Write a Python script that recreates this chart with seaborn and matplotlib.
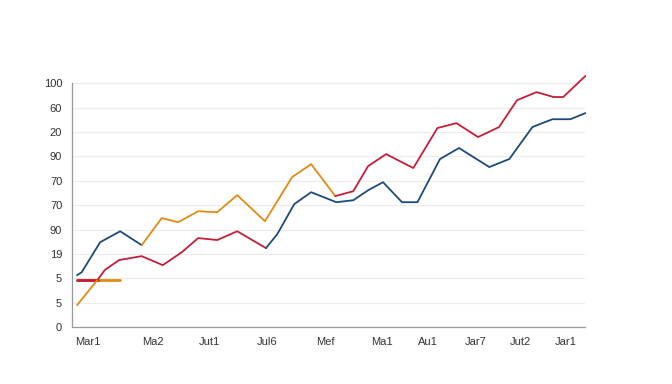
import matplotlib
matplotlib.use("Agg")
import matplotlib.pyplot as plt
import seaborn as sns
import pandas as pd

sns.set_style("white")
plt.rcParams['font.family'] = ['Liberation Sans', 'DejaVu Sans']

# tick labels (as printed on the chart)
y_labels = ['0', '5', '5', '19', '90', '70', '70', '90', '20', '60', '100']
x_labels = ['Mar1', 'Ma2', 'Jut1', 'Jul6', 'Mef', 'Ma1', 'Au1', 'Jar7', 'Jut2', 'Jar1']
x_ticks = [3.1, 15.8, 26.7, 38.0, 49.3, 60.4, 69.4, 78.6, 87.3, 96.1]

# upper line, split by colour
up_blue_x = [1.0, 1.9, 5.5, 9.4, 13.6]
up_blue_y = [2.13, 2.25, 3.48, 3.93, 3.36]
up_orange_x = [13.6, 17.5, 20.7, 24.6, 28.3, 32.2, 37.6, 42.9, 46.6, 51.3]
up_orange_y = [3.36, 4.47, 4.30, 4.75, 4.71, 5.41, 4.34, 6.15, 6.68, 5.37]
up_red_x = [51.3, 54.8, 57.7, 61.2, 66.5, 71.2, 74.9, 79.1, 83.2, 86.7, 90.5, 93.8, 95.7, 100.0]
up_red_y = [5.37, 5.57, 6.60, 7.09, 6.52, 8.16, 8.36, 7.79, 8.20, 9.30, 9.63, 9.43, 9.43, 10.29]

# lower line, split by colour
lo_orange_x = [1.0, 5.1]
lo_orange_y = [0.90, 1.97]
lo_red_x = [5.1, 6.4, 9.2, 13.6, 17.7, 21.4, 24.6, 28.3, 32.2, 37.8]
lo_red_y = [1.97, 2.34, 2.75, 2.91, 2.54, 3.07, 3.65, 3.57, 3.93, 3.24]
lo_blue_x = [37.8, 40.0, 43.3, 46.6, 51.5, 54.8, 57.7, 60.6, 64.3, 67.3, 71.7, 75.4, 81.3, 85.2, 89.7, 93.6, 97.1, 100.0]
lo_blue_y = [3.24, 3.81, 5.04, 5.53, 5.12, 5.20, 5.61, 5.94, 5.12, 5.12, 6.89, 7.34, 6.56, 6.89, 8.20, 8.52, 8.52, 8.77]

# short flat marker line
flat_x = [1.0, 9.4]
flat_y = [1.93, 1.93]
flat_red_x = [1.0, 5.1]

BLUE = '#1d4a7a'
RED = '#c41e3a'
ORANGE = '#e08b12'

fig = plt.figure(figsize=(6.72, 3.84), dpi=100)
ax = fig.add_axes([0.107, 0.148, 0.764, 0.661])

segs = [
    (flat_x, flat_y, ORANGE, 2.0),
    (flat_red_x, flat_y, RED, 2.0),
    (lo_orange_x, lo_orange_y, ORANGE, 1.3),
    (lo_red_x, lo_red_y, RED, 1.3),
    (lo_blue_x, lo_blue_y, BLUE, 1.3),
    (up_blue_x, up_blue_y, BLUE, 1.3),
    (up_orange_x, up_orange_y, ORANGE, 1.3),
    (up_red_x, up_red_y, RED, 1.3),
]
for xs, ys, c, lw in segs:
    df = pd.DataFrame({'x': xs, 'y': ys})
    sns.lineplot(data=df, x='x', y='y', ax=ax, color=c, linewidth=lw,
                 sort=False, clip_on=False)

ax.set_xlim(0, 100)
ax.set_ylim(0, 10.4)
ax.set_yticks(range(11))
ax.set_yticklabels(y_labels)
ax.set_xticks(x_ticks)
ax.set_xticklabels(x_labels)
ax.set_xlabel('')
ax.set_ylabel('')

for y in range(1, 11):
    ax.axhline(y, color='#ececec', linewidth=0.8, zorder=0)

for s in ['top', 'right']:
    ax.spines[s].set_visible(False)
ax.spines['left'].set_bounds(0, 10)
for s in ['left', 'bottom']:
    ax.spines[s].set_color('#999999')
    ax.spines[s].set_linewidth(0.9)

ax.tick_params(axis='both', labelsize=8, colors='#333333', length=3,
               width=0.6, pad=4)

fig.savefig('out.png', dpi=100)
